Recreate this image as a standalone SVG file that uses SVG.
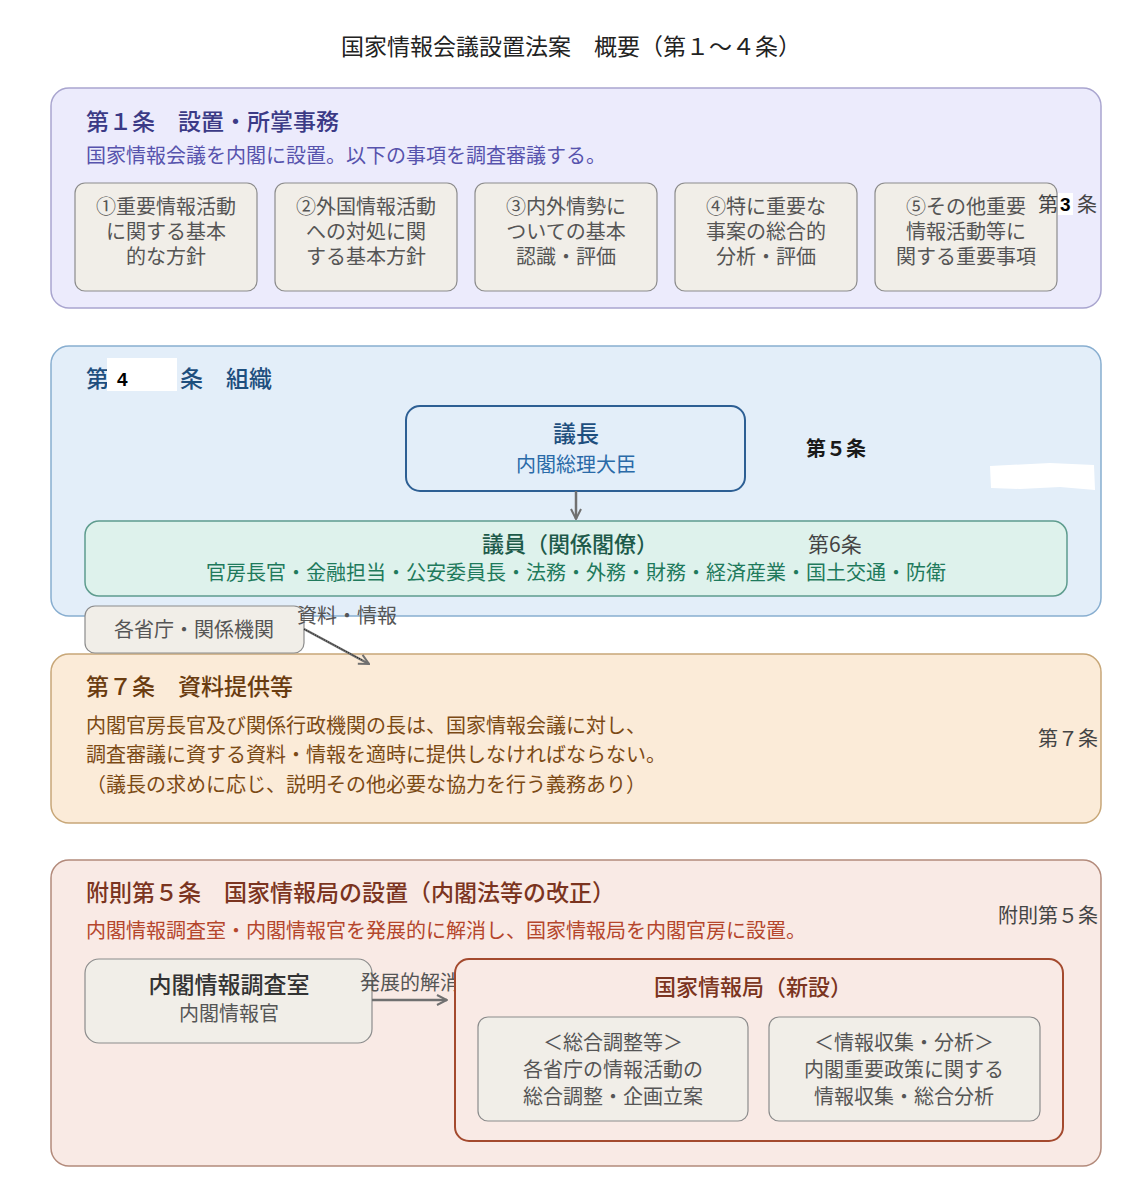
<svg xmlns="http://www.w3.org/2000/svg" width="1140" height="1187" viewBox="0 0 1140 1187">
<defs>
<style>
text{font-family:'Noto Sans CJK JP','Noto Sans',sans-serif;}
.t20{font-size:20px;}
.t23{font-size:23px;font-weight:500;}
.c{text-anchor:middle;}
.sub{fill:#f1eee8;stroke:#8c8c8c;stroke-width:1.2;}
.subt{fill:#555555;font-size:20px;text-anchor:middle;}
.lbl{fill:#444444;font-size:20px;}
.num{font-family:'Liberation Sans',sans-serif;font-size:19px;font-weight:bold;fill:#000000;}
.conn{stroke:#707070;stroke-width:2.5;fill:none;}
</style>
<marker id="chev" viewBox="0 0 12 12" refX="11" refY="6" markerWidth="12" markerHeight="12" markerUnits="userSpaceOnUse" orient="auto">
<path d="M1,1 L11,6 L1,11" fill="none" stroke="#707070" stroke-width="2"/>
</marker>
</defs>
<rect width="1140" height="1187" fill="#ffffff"/>

<text x="571" y="55" class="c" font-size="23" fill="#222222">国家情報会議設置法案　概要（第１～４条）</text>

<g id="sec1">
<rect x="51" y="88" width="1050" height="220" rx="18" fill="#ecebfc" stroke="#a9a5cf" stroke-width="1.5"/>
<text x="86" y="130" class="t23" fill="#3b3a86">第１条　設置・所掌事務</text>
<text x="86" y="163" class="t20" fill="#5753ad">国家情報会議を内閣に設置。以下の事項を調査審議する。</text>
</g>

<g id="item1">
<rect x="75" y="183" width="182" height="108" rx="10" class="sub"/>
<text x="166" y="214" class="subt">①重要情報活動</text>
<text x="166" y="239" class="subt">に関する基本</text>
<text x="166" y="264" class="subt">的な方針</text>
</g>
<g id="item2">
<rect x="275" y="183" width="182" height="108" rx="10" class="sub"/>
<text x="366" y="214" class="subt">②外国情報活動</text>
<text x="366" y="239" class="subt">への対処に関</text>
<text x="366" y="264" class="subt">する基本方針</text>
</g>
<g id="item3">
<rect x="475" y="183" width="182" height="108" rx="10" class="sub"/>
<text x="566" y="214" class="subt">③内外情勢に</text>
<text x="566" y="239" class="subt">ついての基本</text>
<text x="566" y="264" class="subt">認識・評価</text>
</g>
<g id="item4">
<rect x="675" y="183" width="182" height="108" rx="10" class="sub"/>
<text x="766" y="214" class="subt">④特に重要な</text>
<text x="766" y="239" class="subt">事案の総合的</text>
<text x="766" y="264" class="subt">分析・評価</text>
</g>
<g id="item5">
<rect x="875" y="183" width="182" height="108" rx="10" class="sub"/>
<text x="966" y="214" class="subt">⑤その他重要</text>
<text x="966" y="239" class="subt">情報活動等に</text>
<text x="966" y="264" class="subt">関する重要事項</text>
</g>

<g id="art3label">
<text x="1038" y="212" class="lbl">第</text>
<rect x="1058" y="193" width="15" height="22" fill="#ffffff"/>
<text x="1060" y="211" class="num">3</text>
<text x="1077" y="212" class="lbl">条</text>
</g>

<g id="sec2">
<rect x="51" y="346" width="1050" height="270" rx="18" fill="#e3eef9" stroke="#88aed0" stroke-width="1.5"/>
<text x="86" y="387" class="t23" fill="#1e4f7e">第</text>
<rect x="107" y="358" width="70" height="33" fill="#ffffff"/>
<text x="117" y="386" class="num">4</text>
<text x="180" y="387" class="t23" fill="#1e4f7e">条　組織</text>
<text x="806" y="456" font-size="20" font-weight="bold" fill="#1a1a1a">第５条</text>
<path d="M990,466 L1050,463 L1094,465 L1095,490 L1060,487 L1020,489 L991,488 Z" fill="#ffffff"/>
</g>

<g id="sec3">
<rect x="51" y="654" width="1050" height="169" rx="18" fill="#fbebd8" stroke="#c8a778" stroke-width="1.5"/>
<text x="86" y="695" class="t23" fill="#6a3c10">第７条　資料提供等</text>
<text x="86" y="733" class="t20" fill="#7b4a15">内閣官房長官及び関係行政機関の長は、国家情報会議に対し、</text>
<text x="86" y="762" class="t20" fill="#7b4a15">調査審議に資する資料・情報を適時に提供しなければならない。</text>
<text x="86" y="792" class="t20" fill="#7b4a15">（議長の求めに応じ、説明その他必要な協力を行う義務あり）</text>
<text x="1038" y="746" class="lbl">第７条</text>
</g>

<g id="sec4">
<rect x="51" y="860" width="1050" height="306" rx="18" fill="#f9eae5" stroke="#b38a7b" stroke-width="1.5"/>
<text x="86" y="901" class="t23" fill="#7b3420">附則第５条　国家情報局の設置（内閣法等の改正）</text>
<text x="86" y="938" class="t20" fill="#b5462c">内閣情報調査室・内閣情報官を発展的に解消し、国家情報局を内閣官房に設置。</text>
<text x="998" y="923" class="lbl">附則第５条</text>
</g>

<g id="gicho">
<rect x="406" y="406" width="339" height="85" rx="14" fill="#e3eef9" stroke="#2d5f94" stroke-width="2"/>
<text x="576" y="442" class="t23 c" fill="#1e4f7e">議長</text>
<text x="576" y="472" class="t20 c" fill="#2a6aa8">内閣総理大臣</text>
</g>

<g id="giin">
<rect x="85" y="521" width="982" height="75" rx="14" fill="#def2ec" stroke="#5e9c8e" stroke-width="1.5"/>
<text x="570" y="552" class="c" font-size="22" font-weight="500" fill="#1d5a4a">議員（関係閣僚）</text>
<text x="808" y="552" font-size="21" fill="#444444">第6条</text>
<text x="576" y="580" class="t20 c" fill="#1f7a5c">官房長官・金融担当・公安委員長・法務・外務・財務・経済産業・国土交通・防衛</text>
</g>

<g id="kakushocho">
<rect x="85" y="606" width="219" height="47" rx="10" class="sub"/>
<text x="194" y="637" class="t20 c" fill="#555555">各省庁・関係機関</text>
</g>

<g id="naicho">
<rect x="85" y="959" width="287" height="84" rx="14" class="sub"/>
<text x="229" y="993" class="t23 c" fill="#333333">内閣情報調査室</text>
<text x="229" y="1021" class="t20 c" fill="#555555">内閣情報官</text>
</g>

<g id="connectors">
<line x1="576" y1="491" x2="576" y2="519" class="conn" marker-end="url(#chev)"/>
<line x1="304" y1="629" x2="369" y2="664" class="conn" marker-end="url(#chev)"/>
<line x1="304" y1="629" x2="362" y2="660" stroke="#111111" stroke-width="1" stroke-dasharray="1 1.5"/>
<text x="297" y="623" class="t20" fill="#555555">資料・情報</text>
<line x1="372" y1="1000" x2="447" y2="1000" class="conn" marker-end="url(#chev)"/>
<text x="360" y="990" class="t20" fill="#555555">発展的解消</text>
</g>

<g id="kokka">
<rect x="455" y="959" width="608" height="182" rx="14" fill="#f9eae5" stroke="#a44a2e" stroke-width="2"/>
<text x="753" y="995" class="c" font-size="22" font-weight="500" fill="#7b3420">国家情報局（新設）</text>
</g>

<g id="sogo">
<rect x="478" y="1017" width="270" height="104" rx="10" class="sub"/>
<text x="613" y="1050" class="subt">＜総合調整等＞</text>
<text x="613" y="1077" class="subt">各省庁の情報活動の</text>
<text x="613" y="1104" class="subt">総合調整・企画立案</text>
</g>

<g id="shushu">
<rect x="769" y="1017" width="271" height="104" rx="10" class="sub"/>
<text x="904" y="1050" class="subt">＜情報収集・分析＞</text>
<text x="904" y="1077" class="subt">内閣重要政策に関する</text>
<text x="904" y="1104" class="subt">情報収集・総合分析</text>
</g>
</svg>
